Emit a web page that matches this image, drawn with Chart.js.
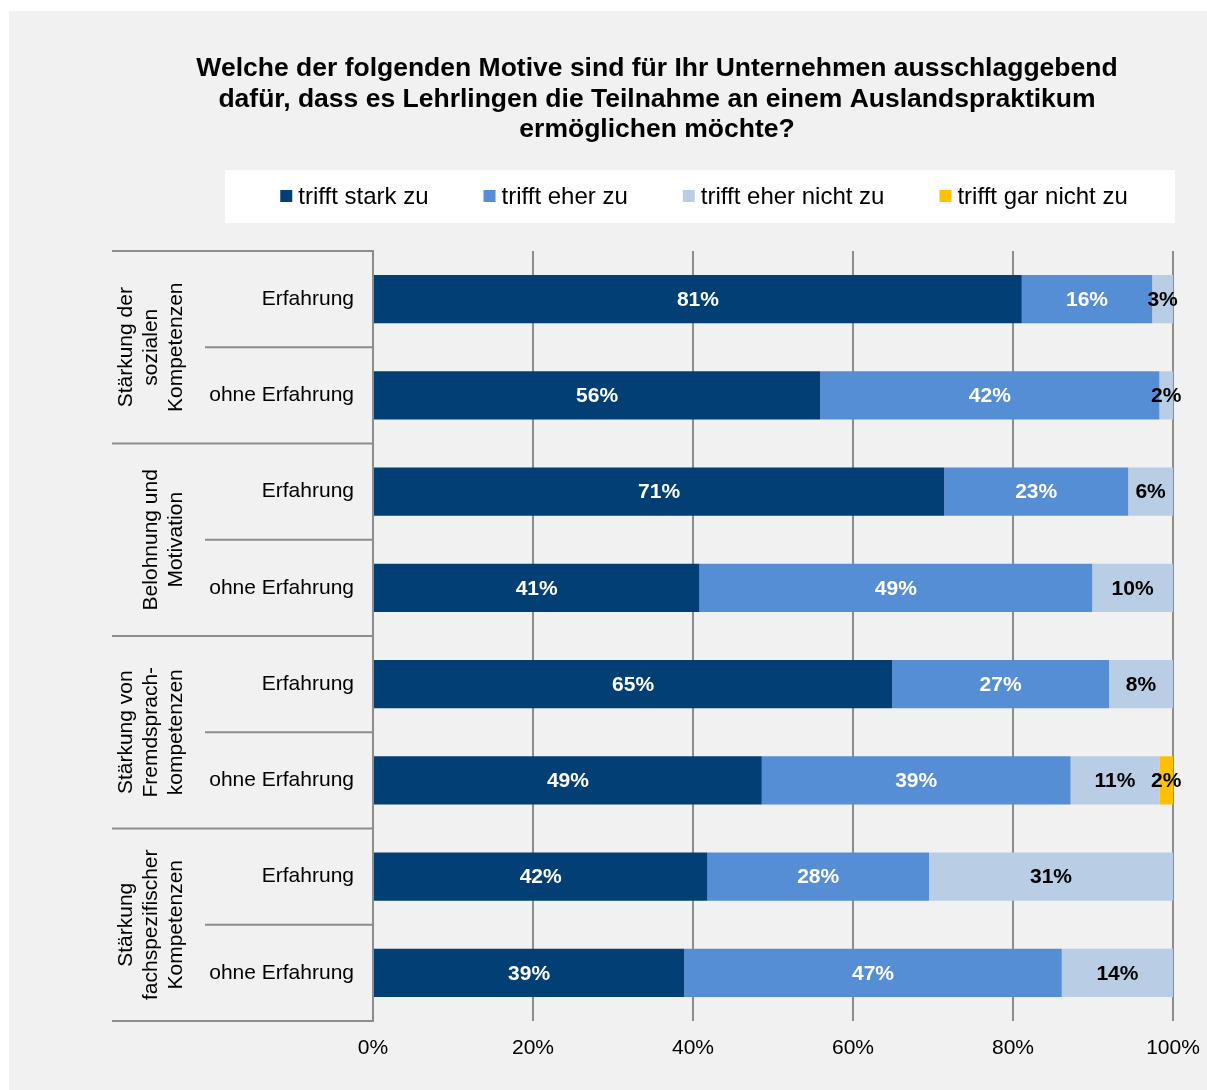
<!DOCTYPE html>
<html>
<head>
<meta charset="utf-8">
<script src="https://cdn.jsdelivr.net/npm/chart.js@4.4.1/dist/chart.umd.min.js"></script>
<style>
  body { margin: 0; background: #fff; }
  #wrap { width: 1207px; height: 1090px; }
</style>
</head>
<body>
<div id="wrap"><canvas id="motive-chart" width="1207" height="1090"></canvas></div>
<script>
var titleLines = [
    'Welche der folgenden Motive sind für Ihr Unternehmen ausschlaggebend',
    'dafür, dass es Lehrlingen die Teilnahme an einem Auslandspraktikum',
    'ermöglichen möchte?'
];
var groups = [
    ['Stärkung der', 'sozialen', 'Kompetenzen'],
    ['Belohnung und', 'Motivation'],
    ['Stärkung von', 'Fremdsprach-', 'kompetenzen'],
    ['Stärkung', 'fachspezifischer', 'Kompetenzen']
];
var subLabels = ['Erfahrung', 'ohne Erfahrung'];
var seriesNames = ['trifft stark zu', 'trifft eher zu', 'trifft eher nicht zu', 'trifft gar nicht zu'];
var starkZu      = [81.1, 55.9, 71.4, 40.8, 64.9, 48.6, 41.8, 38.9];
var eherZu       = [16.3, 42.4, 23.0, 49.1, 27.1, 38.6, 27.7, 47.2];
var eherNichtZu  = [2.6, 1.7, 5.6, 10.1, 8.0, 11.1, 30.5, 13.9];
var garNichtZu   = [0, 0, 0, 0, 0, 1.7, 0, 0];
var xTicks = [0, 20, 40, 60, 80, 100];

var FONT = '"Liberation Sans", Arial, sans-serif';
var colors = ['#023f75', '#558ed5', '#b9cde5', '#ffc000'];
var labelColors = ['#ffffff', '#ffffff', '#000000', '#000000'];
var lineGray = '#8c8c8c';

var rowLabels = [];
for (var g = 0; g < groups.length; ++g) {
    for (var s = 0; s < subLabels.length; ++s) {
        rowLabels.push(subLabels[s]);
    }
}

var backgroundPlugin = {
    id: 'background',
    beforeDraw: function (chart) {
        var ctx = chart.ctx;
        ctx.save();
        ctx.fillStyle = '#ffffff';
        ctx.fillRect(0, 0, chart.width, chart.height);
        ctx.fillStyle = '#f1f1f1';
        ctx.fillRect(9, 11, chart.width - 9, chart.height - 11);

        // title
        ctx.fillStyle = '#000';
        ctx.font = 'bold 26.5px ' + FONT;
        ctx.textAlign = 'center';
        ctx.textBaseline = 'middle';
        for (var i = 0; i < titleLines.length; ++i) {
            ctx.fillText(titleLines[i], 657, 69 + i * 30.5);
        }

        // legend box
        ctx.fillStyle = '#ffffff';
        ctx.fillRect(225, 170, 950, 53);
        ctx.font = '24px ' + FONT;
        ctx.textAlign = 'left';
        var gap = 55, marker = 12, markerGap = 6;
        var widths = [], total = 0;
        for (var j = 0; j < seriesNames.length; ++j) {
            var w = marker + markerGap + ctx.measureText(seriesNames[j]).width;
            widths.push(w);
            total += w;
        }
        total += gap * (seriesNames.length - 1);
        var x = 704 - total / 2;
        for (var k = 0; k < seriesNames.length; ++k) {
            ctx.fillStyle = colors[k];
            ctx.fillRect(x, 190, marker, marker);
            ctx.fillStyle = '#000';
            ctx.fillText(seriesNames[k], x + marker + markerGap, 197);
            x += widths[k] + gap;
        }
        ctx.restore();
    },
    afterDraw: function (chart) {
        var ctx = chart.ctx;
        var area = chart.chartArea;
        var yScale = chart.scales.y;
        var rowH = (area.bottom - area.top) / rowLabels.length;
        ctx.save();
        ctx.strokeStyle = lineGray;
        ctx.lineWidth = 2;
        for (var g = 0; g < groups.length; ++g) {
            var top = yScale.getPixelForValue(g * 2) - rowH / 2;
            var bottom = top + rowH * 2;
            ctx.beginPath();
            ctx.moveTo(112, top);
            ctx.lineTo(area.left, top);
            ctx.stroke();
            ctx.beginPath();
            ctx.moveTo(205, top + rowH);
            ctx.lineTo(area.left, top + rowH);
            ctx.stroke();
            if (g === groups.length - 1) {
                ctx.beginPath();
                ctx.moveTo(112, bottom);
                ctx.lineTo(area.left, bottom);
                ctx.stroke();
            }
            // rotated group label
            var lines = groups[g];
            ctx.save();
            ctx.translate(0, (top + bottom) / 2);
            ctx.rotate(-Math.PI / 2);
            ctx.fillStyle = '#000';
            ctx.font = '21px ' + FONT;
            ctx.textAlign = 'center';
            ctx.textBaseline = 'middle';
            for (var i = 0; i < lines.length; ++i) {
                var cx = 176 - (lines.length - 1 - i) * 25;
                ctx.fillText(lines[i], 0, cx);
            }
            ctx.restore();
        }
        ctx.restore();
    }
};

var valueLabelPlugin = {
    id: 'valueLabels',
    afterDatasetsDraw: function (chart) {
        var ctx = chart.ctx;
        ctx.save();
        ctx.font = 'bold 21px ' + FONT;
        ctx.textAlign = 'center';
        ctx.textBaseline = 'middle';
        chart.data.datasets.forEach(function (ds, i) {
            var meta = chart.getDatasetMeta(i);
            meta.data.forEach(function (bar, j) {
                var v = ds.data[j];
                if (!v) return;
                ctx.fillStyle = labelColors[i];
                ctx.fillText(Math.round(v) + '%', (bar.x + bar.base) / 2, bar.y + 1);
            });
        });
        ctx.restore();
    }
};

var seriesData = [starkZu, eherZu, eherNichtZu, garNichtZu];
var datasets = [];
for (var d = 0; d < seriesData.length; ++d) {
    datasets.push({
        label: seriesNames[d],
        data: seriesData[d],
        backgroundColor: colors[d],
        borderWidth: 0,
        categoryPercentage: 1,
        barPercentage: 0.5
    });
}

var ctx = document.getElementById('motive-chart');
var motiveChart = new Chart(ctx, {
    type: 'bar',
    data: { labels: rowLabels, datasets: datasets },
    plugins: [backgroundPlugin, valueLabelPlugin],
    options: {
        responsive: false,
        animation: false,
        indexAxis: 'y',
        layout: { padding: { left: 0, right: 34, top: 251, bottom: 0 } },
        plugins: {
            legend: { display: false },
            title: { display: false },
            tooltip: { enabled: false }
        },
        scales: {
            x: {
                stacked: true,
                min: 0,
                max: 100,
                afterBuildTicks: function (scale) {
                    scale.ticks = xTicks.map(function (v) { return { value: v }; });
                },
                afterFit: function (scale) {
                    scale.height = 69;
                    scale.paddingLeft = 0;
                    scale.paddingRight = 0;
                },
                ticks: {
                    padding: 15,
                    color: '#000',
                    font: { family: FONT, size: 21 },
                    callback: function (v) { return v + '%'; }
                },
                grid: { color: lineGray, lineWidth: 2, drawTicks: false },
                border: { display: false }
            },
            y: {
                stacked: true,
                afterFit: function (scale) {
                    scale.width = 373;
                    scale.paddingTop = 0;
                    scale.paddingBottom = 0;
                },
                ticks: {
                    padding: 11,
                    color: '#000',
                    font: { family: FONT, size: 21 }
                },
                grid: { display: false },
                border: { display: true, color: lineGray, width: 2 }
            }
        }
    }
});
</script>
</body>
</html>
